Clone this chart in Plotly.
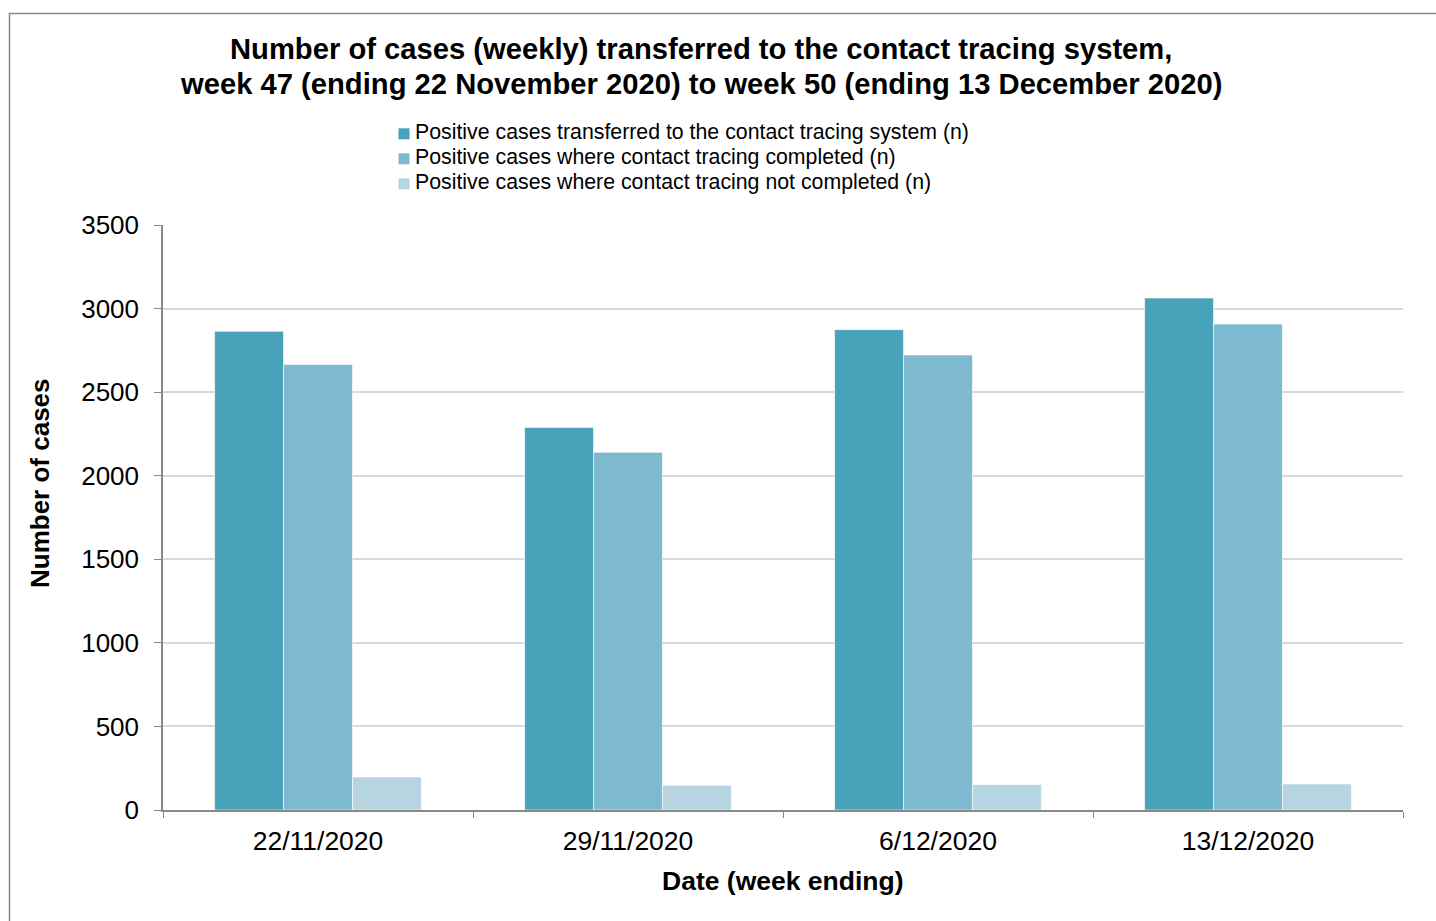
import plotly.graph_objects as go

dates = ["22/11/2020", "29/11/2020", "6/12/2020", "13/12/2020"]
transferred = [2864, 2288, 2874, 3063]
completed = [2666, 2140, 2722, 2907]
not_completed = [198, 148, 152, 156]

series_names = [
    "Positive cases transferred to the contact tracing system (n)",
    "Positive cases where contact tracing completed (n)",
    "Positive cases where contact tracing not completed (n)",
]
colors = ["#48A2BA", "#7EBACF", "#B7D5E0"]
title_lines = [
    "Number of cases (weekly) transferred to the contact tracing system,",
    "week 47 (ending 22 November 2020) to week 50 (ending 13 December 2020)",
]

FONT = "Arial, Liberation Sans, sans-serif"
W, H = 1436, 921
L, R, T, B = 163, 33, 225, 111
pw, ph = W - L - R, H - T - B

def px(x):
    return (x - L) / pw

def py(y):
    return (H - B - y) / ph

fig = go.Figure()
for name, vals, c in zip(series_names, [transferred, completed, not_completed], colors):
    fig.add_trace(go.Bar(
        x=dates, y=vals, name=name,
        marker=dict(color=c, line=dict(color="rgba(255,255,255,0.6)", width=1)),
    ))

annotations = []
shapes = []
for i, line in enumerate(title_lines):
    annotations.append(dict(
        text="<b>" + line + "</b>", x=px(700.5), y=py(49 + 35 * i),
        xref="paper", yref="paper", xanchor="center", yanchor="middle",
        showarrow=False, font=dict(size=29.2, family=FONT)))

# legend (manual, built from series names and colours)
for i, (name, c) in enumerate(zip(series_names, colors)):
    yc = 133.8 + 25 * i
    shapes.append(dict(type="rect", xref="paper", yref="paper",
                       x0=px(398.5), x1=px(409.5), y0=py(yc + 5.5), y1=py(yc - 5.5),
                       fillcolor=c, line=dict(width=0)))
    annotations.append(dict(
        text=name, x=px(413), y=py(yc - 1.5), xref="paper", yref="paper",
        xanchor="left", yanchor="middle", showarrow=False,
        font=dict(size=21.3, family=FONT)))

annotations += [
    dict(text="<b>Number of cases</b>", textangle=-90,
         x=px(40), y=py(483), xref="paper", yref="paper",
         xanchor="center", yanchor="middle", showarrow=False,
         font=dict(size=26, family=FONT)),
    dict(text="<b>Date (week ending)</b>",
         x=px(783), y=py(881), xref="paper", yref="paper",
         xanchor="center", yanchor="middle", showarrow=False,
         font=dict(size=26.5, family=FONT)),
]

shapes.append(dict(type="rect", xref="paper", yref="paper",
                   x0=px(9.5), x1=px(1460), y0=py(960), y1=py(13.5),
                   line=dict(color="#898989", width=1.5),
                   fillcolor="rgba(0,0,0,0)", layer="below"))

fig.update_layout(
    width=W, height=H,
    margin=dict(l=L, r=R, t=T, b=B),
    paper_bgcolor="white", plot_bgcolor="white",
    font=dict(family=FONT, color="#000000"),
    barmode="group", bargap=0.333, bargroupgap=0,
    showlegend=False,
    xaxis=dict(
        showline=True, linecolor="#898989", linewidth=1.5,
        ticks="outside", tickson="boundaries", ticklen=6, tickcolor="#898989",
        tickfont=dict(size=26.5, family=FONT), showgrid=False,
        ticklabelstandoff=6,
    ),
    yaxis=dict(
        range=[0, 3500], dtick=500, tick0=0,
        showline=True, linecolor="#898989", linewidth=1.5,
        ticks="outside", ticklen=7, tickcolor="#898989",
        tickfont=dict(size=26, family=FONT),
        showgrid=True, gridcolor="#D9D9D9", gridwidth=1.5,
        zeroline=False, ticklabelstandoff=10,
    ),
    annotations=annotations,
    shapes=shapes,
)

fig.write_html("out.html", config={"displayModeBar": False},
               post_script="document.body.style.margin='0px';")
